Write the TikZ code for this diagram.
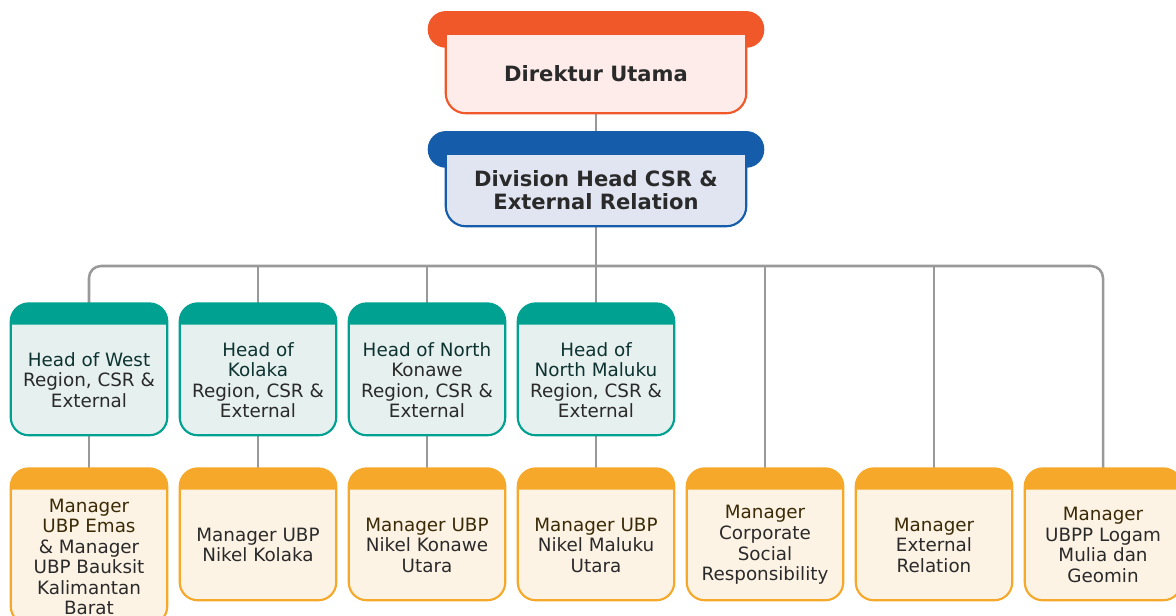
\documentclass[tikz,border=0pt]{standalone}
\usepackage{fontspec}
\setmainfont{DejaVu Sans}
\usetikzlibrary{backgrounds}

\definecolor{dirtab}{HTML}{F0582A}
\definecolor{dirbody}{HTML}{FDECE9}
\definecolor{divtab}{HTML}{155DAA}
\definecolor{divbody}{HTML}{E1E5F2}
\definecolor{headtab}{HTML}{00A191}
\definecolor{headbody}{HTML}{E6F0EF}
\definecolor{mgrtab}{HTML}{F5A829}
\definecolor{mgrbody}{HTML}{FDF3E5}
\definecolor{headink}{HTML}{0D3330}
\definecolor{mgrink}{HTML}{3A2A05}
\definecolor{ink}{HTML}{2A2A2A}

\begin{document}
\begin{tikzpicture}
	[
	x=0.75pt, y=0.75pt,
	body/.style={rectangle,minimum width=117pt,inner sep=0pt,align=center,text=ink,font=\fontsize{13.75}{15.4}\selectfont},
	chief/.style={body,minimum width=225pt,font=\bfseries\fontsize{15.8}{17.3}\selectfont},
	head/.style={body,minimum height=82.5pt},
	manager/.style={body,minimum height=82.5pt},
	conn/.style={draw=black!40,line width=1.9pt},
	]
	\useasboundingbox (0,0) rectangle (1176,-616);
	\node[chief,minimum height=59.25pt] (dir) at (596,-73.5) {Direktur Utama};
	\node[chief,minimum height=54pt] (div) at (596,-190) {Division Head CSR \&\\External Relation};
	\coordinate (bus) at (596,-266);
	\node[head] (west) at (89,-380) {{\color{headink}Head of West}\\Region, CSR \&\\External};
	\node[head] (kolaka) at (258,-380) {{\color{headink}Head of}\\{\color{headink}Kolaka}\\Region, CSR \&\\External};
	\node[head] (konawe) at (427,-380) {{\color{headink}Head of North}\\Konawe\\Region, CSR \&\\External};
	\node[head] (maluku) at (596,-380) {{\color{headink}Head of}\\{\color{headink}North Maluku}\\Region, CSR \&\\External};
	\node[manager,minimum height=100.5pt] (m1) at (89,-557) {{\color{mgrink}Manager}\\{\color{mgrink}UBP Emas}\\\& Manager\\UBP Bauksit\\Kalimantan\\Barat};
	\node[manager] (m2) at (258,-545) {Manager UBP\\Nikel Kolaka};
	\node[manager] (m3) at (427,-545) {{\color{mgrink}Manager UBP}\\Nikel Konawe\\Utara};
	\node[manager] (m4) at (596,-545) {{\color{mgrink}Manager UBP}\\Nikel Maluku\\Utara};
	\node[manager] (m5) at (765,-545) {{\color{mgrink}Manager}\\Corporate\\Social\\Responsibility};
	\node[manager] (m6) at (934,-545) {{\color{mgrink}Manager}\\External\\Relation};
	\node[manager] (m7) at (1103,-545) {{\color{mgrink}Manager}\\UBPP Logam\\Mulia dan\\Geomin};

	\begin{scope}[on background layer]
	\draw[conn] (dir.south) -- (div.north);
	\draw[conn] (div.south) -- (bus);
	\draw[conn,rounded corners=9pt] (west.north) |- (bus) -| (m7.north);
	\foreach \n in {kolaka,konawe,maluku,m5,m6}
		\draw[conn] (\n.north) -- (\n.north |- bus);
	\foreach \a/\b in {west/m1,kolaka/m2,konawe/m3,maluku/m4}
		\draw[conn] (\a.south) -- (\b.north);
	\foreach \n/\tabc/\bodyc in {dir/dirtab/dirbody,div/divtab/divbody}{
		\fill[fill=\tabc,rounded corners=13.5pt] ([shift={(-13.5pt,17pt)}]\n.north west) rectangle ([shift={(13.5pt,-10.5pt)}]\n.north east);
		\filldraw[fill=\bodyc,draw=\tabc,line width=1.6pt] (\n.north west) -- ([yshift=15pt]\n.south west) arc[start angle=180,end angle=270,radius=15pt] -- ([xshift=-15pt]\n.south east) arc[start angle=270,end angle=360,radius=15pt] -- (\n.north east) -- cycle;
	}
	\foreach \n/\tabc/\bodyc in {west/headtab/headbody,kolaka/headtab/headbody,konawe/headtab/headbody,maluku/headtab/headbody,m1/mgrtab/mgrbody,m2/mgrtab/mgrbody,m3/mgrtab/mgrbody,m4/mgrtab/mgrbody,m5/mgrtab/mgrbody,m6/mgrtab/mgrbody,m7/mgrtab/mgrbody}{
		\fill[fill=\tabc,rounded corners=13.5pt] ([yshift=16pt]\n.north west) rectangle (\n.south east);
		\fill[fill=\bodyc] (\n.north west) -- ([yshift=13.5pt]\n.south west) arc[start angle=180,end angle=270,radius=13.5pt] -- ([xshift=-13.5pt]\n.south east) arc[start angle=270,end angle=360,radius=13.5pt] -- (\n.north east) -- cycle;
		\draw[draw=\tabc,line width=1.6pt,rounded corners=13.5pt] ([yshift=16pt]\n.north west) rectangle (\n.south east);
	}
	\end{scope}
\end{tikzpicture}
\end{document}
